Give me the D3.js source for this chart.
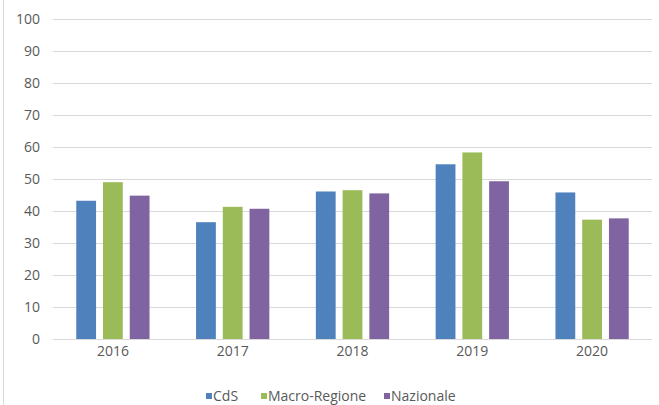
<!DOCTYPE html>
<html><head><meta charset="utf-8">
<script src="https://cdn.jsdelivr.net/npm/d3@7"></script>
<style>body{margin:0;background:#fff}svg{display:block}</style>
</head><body>
<script>
const categories = ["2016","2017","2018","2019","2020"];
const seriesNames = ["CdS","Macro-Regione","Nazionale"];
const cds = [43.2, 36.5, 46.1, 54.6, 45.8];
const macro = [49.0, 41.3, 46.5, 58.3, 37.3];
const nazionale = [44.8, 40.7, 45.5, 49.3, 37.7];
const yTicks = [0,10,20,30,40,50,60,70,80,90,100];
const colors = ["#4F81BD","#9BBB59","#8064A2"];

const W = 659, H = 405;
const seriesVals = [cds, macro, nazionale];
const svg = d3.select("body").append("svg").attr("width", W).attr("height", H);
const font = "'Open Sans', sans-serif";
const textCol = "#595959";

svg.append("line").attr("x1",3.5).attr("x2",3.5).attr("y1",0).attr("y2",H)
  .attr("stroke","#D9D9D9").attr("stroke-width",1);

const x = d3.scaleBand().domain(categories).range([53, 652]).paddingInner(0).paddingOuter(0);
const y = d3.scaleLinear().domain([0,100]).range([339, 19]);
const x1 = d3.scaleBand().domain(seriesNames).range([0, x.bandwidth()]).paddingInner(0.26).paddingOuter(0.87);

// gridlines
svg.append("g").selectAll("line").data(yTicks).join("line")
  .attr("x1", 53).attr("x2", 652)
  .attr("y1", d => Math.round(y(d)) + 0.5).attr("y2", d => Math.round(y(d)) + 0.5)
  .attr("stroke", "#D9D9D9").attr("stroke-width", 1);

// y axis labels
const yAxis = d3.axisLeft(y).tickValues(yTicks).tickSize(0).tickPadding(0);
const gy = svg.append("g").attr("transform","translate(40,0)").call(yAxis);
gy.select(".domain").remove();
gy.selectAll("text").attr("fill", textCol).style("font-family", font).style("font-size","14px");

// bars
const groups = svg.append("g").selectAll("g").data(categories).join("g")
  .attr("transform", d => `translate(${x(d)},0)`);
groups.selectAll("rect").data((c,i) => seriesNames.map((s,j) => ({s, v: seriesVals[j][i], j})))
  .join("rect")
  .attr("x", d => x1(d.s)).attr("width", x1.bandwidth())
  .attr("y", d => y(d.v)).attr("height", d => y(0) - y(d.v))
  .attr("fill", d => colors[d.j]);

// x axis
const xAxis = d3.axisBottom(x).tickSize(0).tickPadding(0);
const gx = svg.append("g").attr("transform", "translate(0,339)").call(xAxis);
gx.select(".domain").remove();
gx.selectAll("text").attr("fill", textCol).style("font-family", font).style("font-size","14px")
  .attr("dy", null).attr("y", 17);

// legend
const legendX = [206, 261, 384];
const lg = svg.append("g").selectAll("g").data(seriesNames).join("g")
  .attr("transform", (d,i) => `translate(${legendX[i]},396)`);
lg.append("rect").attr("x",0).attr("y",-3).attr("width",6).attr("height",6)
  .attr("fill", (d,i) => colors[i]);
lg.append("text").attr("x", 7).attr("y", 0).attr("dy","0.35em")
  .attr("fill", textCol).style("font-family", font).style("font-size","14px").text(d => d);
</script>
</body></html>
